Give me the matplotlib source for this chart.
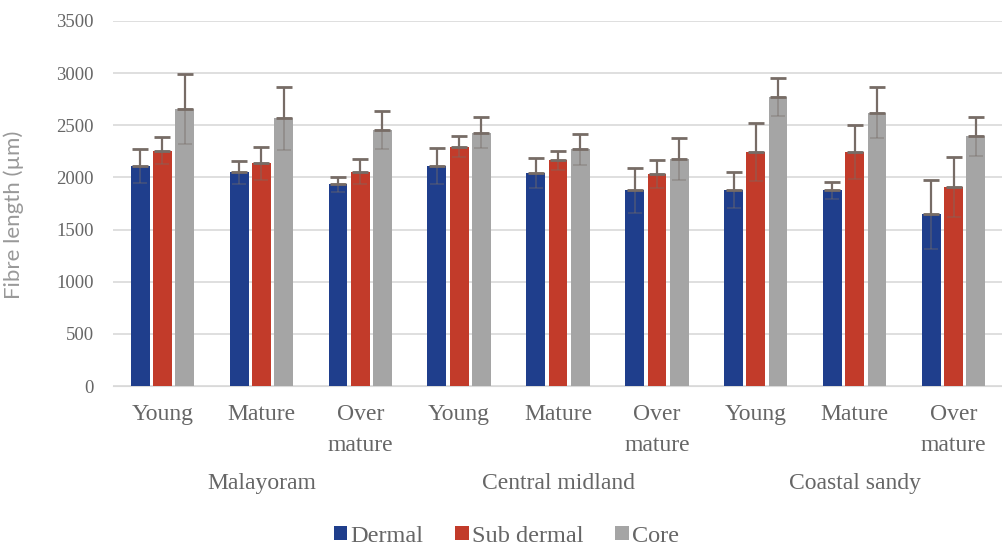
import numpy as np
import matplotlib.pyplot as plt

plt.rcParams['font.family'] = ['Liberation Serif', 'DejaVu Serif']

# fibre length by tissue zone, per age class and location
sites = ["Malayoram", "Central midland", "Coastal sandy"]
ages = ["Young", "Mature", "Over\nmature"]
series = ["Dermal", "Sub dermal", "Core"]

dermal = [2110, 2050, 1935, 2110, 2040, 1875, 1880, 1875, 1645]
sub_dermal = [2255, 2135, 2055, 2295, 2165, 2035, 2245, 2245, 1910]
core = [2660, 2565, 2455, 2430, 2270, 2180, 2770, 2620, 2395]

dermal_err = [165, 110, 70, 170, 145, 220, 170, 85, 335]
sub_dermal_err = [130, 160, 120, 100, 90, 135, 275, 260, 290]
core_err = [335, 300, 180, 150, 150, 200, 180, 245, 185]

colors = ["#1f3e8c", "#c23b2a", "#a5a5a5"]
err_color = "#776c66"
text_color = "#666666"

fig = plt.figure(figsize=(10.03, 5.52), dpi=100)
ax = fig.add_axes([0.1127, 0.3007, 0.8873, 0.6613])

x = np.arange(len(sites) * len(ages))
width = 0.19
offsets = [-0.225, 0.0, 0.225]
values = [dermal, sub_dermal, core]
errors = [dermal_err, sub_dermal_err, core_err]

for vals, errs, off, col, name in zip(values, errors, offsets, colors, series):
    xs = x + off
    ax.bar(xs, vals, width, color=col, label=name, zorder=3)
    zeros = np.zeros(len(errs))
    # upper whisker with cap, lower half runs faintly inside the bar
    ax.errorbar(xs, vals, yerr=[zeros, errs], fmt="none", ecolor=err_color,
                elinewidth=1.6, capsize=6, capthick=2, zorder=4)
    ax.errorbar(xs, vals, yerr=[errs, zeros], fmt="none", ecolor=err_color,
                elinewidth=1.4, capsize=5, capthick=1.2, alpha=0.4, zorder=4)

ax.set_xlim(-0.5, len(x) - 0.5)
ax.set_ylim(0, 3500)
ax.set_yticks(np.arange(0, 3501, 500))
ax.yaxis.grid(True, color="#d9d9d9", linewidth=1.2, zorder=0)
ax.set_axisbelow(True)
for s in ["top", "right", "left"]:
    ax.spines[s].set_visible(False)
ax.spines["bottom"].set_color("#d9d9d9")
ax.tick_params(axis="y", length=0, pad=14, labelsize=13.5, labelcolor=text_color)
ax.tick_params(axis="x", length=0, pad=13, labelsize=17, labelcolor=text_color)
ax.set_xticks(x)
ax.set_xticklabels(ages * len(sites), linespacing=1.6)
ax.set_ylabel("Fibre length (µm)", fontsize=16, color="#999999",
              family=["Lato", "DejaVu Sans"])
ax.yaxis.set_label_coords(-0.1, 0.47)

# site names under each group of three age classes
for i, site in enumerate(sites):
    ax.text(i * 3 + 1, -0.266, site, transform=ax.get_xaxis_transform(),
            ha="center", va="center", fontsize=17, color=text_color)

ax.legend(loc="center", bbox_to_anchor=(0.442, -0.411), ncol=3, frameon=False,
          fontsize=17.5, labelcolor=text_color, handlelength=0.55,
          handleheight=0.55, handletextpad=0.15, columnspacing=1.3)

fig.savefig("out.png", dpi=100, facecolor="white")
